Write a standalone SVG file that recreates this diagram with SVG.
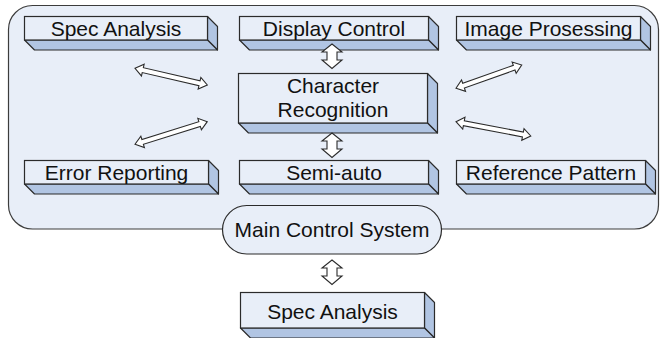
<svg xmlns="http://www.w3.org/2000/svg" width="660" height="338" viewBox="0 0 660 338">
<style>
.cont{fill:#e8eef8;stroke:#3c3c3c;stroke-width:1.2}
.front{fill:#e8eef8;stroke:#2b2b2b;stroke-width:1.2}
.depth{fill:#b1c5e3;stroke:#2b2b2b;stroke-width:1.2;stroke-linejoin:round}
.arr{fill:#ffffff;stroke:#2b2b2b;stroke-width:1.1;stroke-linejoin:miter}
text{font-family:"Liberation Sans",Arial,sans-serif;font-size:21px;fill:#111;text-anchor:middle}
</style>
<rect width="660" height="338" fill="#ffffff"/>
<g id="container">
<rect class="cont" x="8.5" y="5.5" width="650" height="223.5" rx="24" ry="24"/>
</g>
<g id="spec-analysis-top">
<polygon class="depth" points="207.5,16.5 217.5,26.5 217.5,50 207.5,40"/>
<polygon class="depth" points="24.5,40 207.5,40 217.5,50 34.5,50"/>
<rect class="front" x="24.5" y="16.5" width="183" height="23.5"/>
<text x="116" y="35.5">Spec Analysis</text>
</g>
<g id="display-control">
<polygon class="depth" points="428.5,16.5 438.5,26.5 438.5,50 428.5,40"/>
<polygon class="depth" points="239.5,40 428.5,40 438.5,50 249.5,50"/>
<rect class="front" x="239.5" y="16.5" width="189" height="23.5"/>
<text x="334" y="35.5">Display Control</text>
</g>
<g id="image-prosessing">
<polygon class="depth" points="640.5,16.5 650.5,26.5 650.5,50 640.5,40"/>
<polygon class="depth" points="456.5,40 640.5,40 650.5,50 466.5,50"/>
<rect class="front" x="456.5" y="16.5" width="184" height="23.5"/>
<text x="548.5" y="35.5">Image Prosessing</text>
</g>
<g id="character-recognition">
<polygon class="depth" points="427.5,73.5 437.5,83.5 437.5,133 427.5,123"/>
<polygon class="depth" points="238.5,123 427.5,123 437.5,133 248.5,133"/>
<rect class="front" x="238.5" y="73.5" width="189" height="49.5"/>
<text x="333" y="93">Character</text>
<text x="333" y="117">Recognition</text>
</g>
<g id="error-reporting">
<polygon class="depth" points="208.5,160.5 218.5,170.5 218.5,194 208.5,184"/>
<polygon class="depth" points="24.5,184 208.5,184 218.5,194 34.5,194"/>
<rect class="front" x="24.5" y="160.5" width="184" height="23.5"/>
<text x="116.5" y="179.5">Error Reporting</text>
</g>
<g id="semi-auto">
<polygon class="depth" points="428.5,160.5 438.5,170.5 438.5,194 428.5,184"/>
<polygon class="depth" points="239.5,184 428.5,184 438.5,194 249.5,194"/>
<rect class="front" x="239.5" y="160.5" width="189" height="23.5"/>
<text x="334" y="179.5">Semi-auto</text>
</g>
<g id="reference-pattern">
<polygon class="depth" points="645.5,160.5 655.5,170.5 655.5,194 645.5,184"/>
<polygon class="depth" points="456.5,184 645.5,184 655.5,194 466.5,194"/>
<rect class="front" x="456.5" y="160.5" width="189" height="23.5"/>
<text x="551" y="179.5">Reference Pattern</text>
</g>
<g id="main-control-system">
<rect class="front" x="222.5" y="205.5" width="219" height="48.5" rx="24.25" ry="24.25"/>
<text x="332" y="236.5">Main Control System</text>
</g>
<g id="spec-analysis-bottom">
<polygon class="depth" points="424.5,292.5 434.5,302.5 434.5,338 424.5,328"/>
<polygon class="depth" points="240.5,328 424.5,328 434.5,338 250.5,338"/>
<rect class="front" x="240.5" y="292.5" width="184" height="35.5"/>
<text x="332.5" y="318.5">Spec Analysis</text>
</g>
<g id="connectors">
<polygon class="arr" transform="translate(135,68.3) rotate(13)" points="0,0 8,-6 8,-2.5 66.2,-2.5 66.2,-6 74.2,0 66.2,6 66.2,2.5 8,2.5 8,6"/>
<polygon class="arr" transform="translate(135,144.3) rotate(-17.4)" points="0,0 8,-6 8,-2.5 67.7,-2.5 67.7,-6 75.7,0 67.7,6 67.7,2.5 8,2.5 8,6"/>
<polygon class="arr" transform="translate(456,88.3) rotate(-19.5)" points="0,0 8,-6 8,-2.5 61.7,-2.5 61.7,-6 69.7,0 61.7,6 61.7,2.5 8,2.5 8,6"/>
<polygon class="arr" transform="translate(456,121.7) rotate(10.8)" points="0,0 8,-6 8,-2.5 68.1,-2.5 68.1,-6 76.1,0 68.1,6 68.1,2.5 8,2.5 8,6"/>
<polygon class="arr" points="332,44 342,52 337,52 337,60 342,60 332,68.5 322,60 327,60 327,52 322,52"/>
<polygon class="arr" points="332,133 342,141 337,141 337,149 342,149 332,157.5 322,149 327,149 327,141 322,141"/>
<polygon class="arr" points="332,260 342,268 337,268 337,276 342,276 332,284.5 322,276 327,276 327,268 322,268"/>
</g>
</svg>
